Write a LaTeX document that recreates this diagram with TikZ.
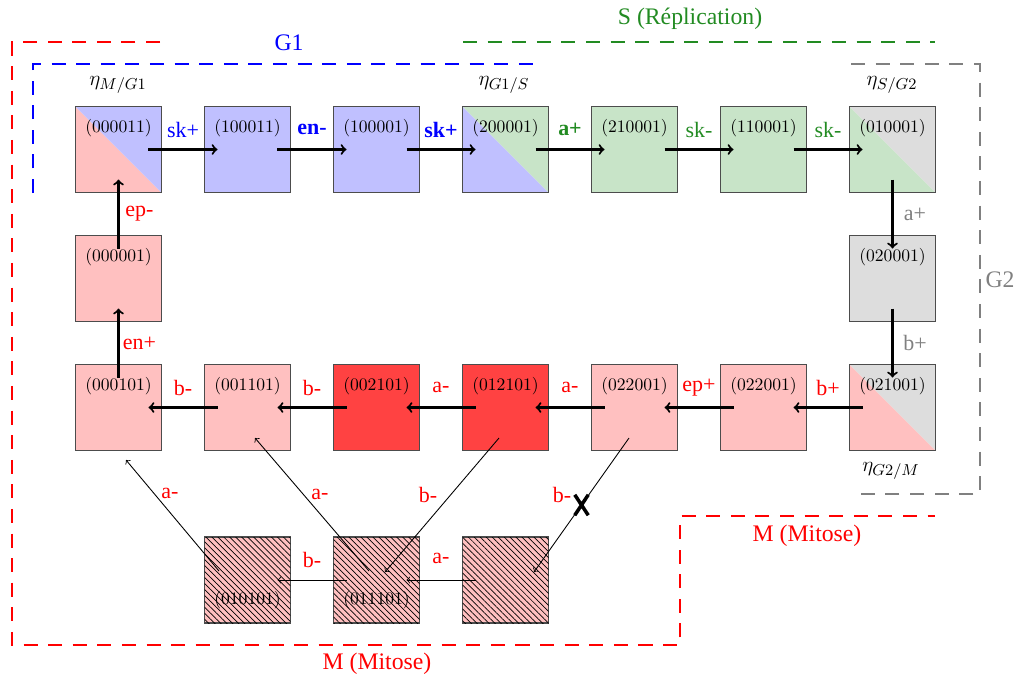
\documentclass[tikz,border=0pt]{standalone}
\usepackage{fontspec}
\usepackage{tikz}
\usetikzlibrary{calc,patterns.meta,shapes.misc}
\newfontfamily\lblfont{Liberation Serif}
\definecolor{bleu}{RGB}{192,192,255}
\definecolor{vert}{RGB}{200,228,200}
\definecolor{rose}{RGB}{255,192,192}
\definecolor{rouge}{RGB}{255,66,66}
\definecolor{gris}{RGB}{221,221,221}
\definecolor{tvert}{RGB}{34,139,34}
\definecolor{tgris}{RGB}{128,128,128}
\tikzset{
  etat/.style={draw=black!70, line width=0.6pt, minimum width=1.72cm, minimum height=1.72cm, inner sep=0pt},
  moitie/.style 2 args={etat, path picture={
      \fill[#1] (path picture bounding box.north west) -- (path picture bounding box.south west) -- (path picture bounding box.south east) -- cycle;
      \fill[#2] (path picture bounding box.north west) -- (path picture bounding box.north east) -- (path picture bounding box.south east) -- cycle;}},
  raye/.style={etat, fill=rose, postaction={pattern={Lines[angle=-45, distance=2.4pt, line width=0.4pt]}}},
  txt/.style={label={[anchor=center,yshift=-0.44cm]north:#1}},
  txtbas/.style={label={[anchor=center,yshift=0.46cm]south:#1}},
  fleche/.style={->, line width=1.2pt, shorten >=0.6cm, shorten <=0.6cm},
  fin/.style={->, line width=0.5pt},
  lab/.style={font=\fontsize{12.5}{14}\lblfont},
  labgras/.style={font=\fontsize{12.5}{14}\lblfont\bfseries},
  zone/.style={line width=1.1pt, dash pattern=on 8pt off 6pt},
  titre/.style={font=\fontsize{13.5}{16}\lblfont},
  eta/.style={font=\fontsize{12.5}{15}\selectfont}
}

\begin{document}
\begin{tikzpicture}[x=0.02cm, y=-0.02cm]
    \useasboundingbox (0,0) rectangle (1016,677);
    % phases
    \draw[zone, red] (160,42) -- (12,42) -- (12,645) -- (680,645) -- (680,516) -- (935,516);
    \draw[zone, blue] (33,193) -- (33,64) -- (543,64);
    \draw[zone, tvert] (463,42) -- (935,42);
    \draw[zone, tgris] (851,64) -- (980,64) -- (980,494) -- (851,494);
    \node[titre, blue] (g1) at (289,43) {G1};
    \node[titre, tvert] (s) at (690,19) {S (Réplication)};
    \node[titre, tgris] (g2) at (1000,280) {G2};
    \node[titre, red] (m1) at (377,664) {M (Mitose)};
    \node[titre, red] (m2) at (807,536) {M (Mitose)};
    % etats
    \node[moitie={rose}{bleu}, txt=(000011)] (s000011) at (118.5,149.5) {};
    \node[etat, fill=bleu, txt=(100011)] (s100011) at (247.5,149.5) {};
    \node[etat, fill=bleu, txt=(100001)] (s100001) at (376.5,149.5) {};
    \node[moitie={bleu}{vert}, txt=(200001)] (s200001) at (505.5,149.5) {};
    \node[etat, fill=vert, txt=(210001)] (s210001) at (634.5,149.5) {};
    \node[etat, fill=vert, txt=(110001)] (s110001) at (763.5,149.5) {};
    \node[moitie={vert}{gris}, txt=(010001)] (s010001) at (892.5,149.5) {};
    \node[etat, fill=rose, txt=(000001)] (s000001) at (118.5,278.5) {};
    \node[etat, fill=gris, txt=(020001)] (s020001) at (892.5,278.5) {};
    \node[etat, fill=rose, txt=(000101)] (s000101) at (118.5,407.5) {};
    \node[etat, fill=rose, txt=(001101)] (s001101) at (247.5,407.5) {};
    \node[etat, fill=rouge, txt=(002101)] (s002101) at (376.5,407.5) {};
    \node[etat, fill=rouge, txt=(012101)] (s012101) at (505.5,407.5) {};
    \node[etat, fill=rose, txt=(022001)] (s022001a) at (634.5,407.5) {};
    \node[etat, fill=rose, txt=(022001)] (s022001b) at (763.5,407.5) {};
    \node[moitie={rose}{gris}, txt=(021001)] (s021001) at (892.5,407.5) {};
    \node[raye, txtbas=(010101)] (s010101) at (247.5,580) {};
    \node[raye, txtbas=(011101)] (s011101) at (376.5,580) {};
    \node[raye] (vide) at (505.5,580) {};
    % points de controle
    \node[eta] (eta1) at (118,85) {$\eta_{M/G1}$};
    \node[eta] (eta2) at (504,85) {$\eta_{G1/S}$};
    \node[eta] (eta3) at (892,85) {$\eta_{S/G2}$};
    \node[eta] (eta4) at (891,471) {$\eta_{G2/M}$};
    % transitions
    \draw[fleche] (s000011.center) -- (s100011.center) node[midway, lab, blue, yshift=0.4cm] {sk+};
    \draw[fleche] (s100011.center) -- (s100001.center) node[midway, labgras, blue, yshift=0.4cm] {en-};
    \draw[fleche] (s100001.center) -- (s200001.center) node[midway, labgras, blue, yshift=0.4cm] {sk+};
    \draw[fleche] (s200001.center) -- (s210001.center) node[midway, labgras, tvert, yshift=0.4cm] {a+};
    \draw[fleche] (s210001.center) -- (s110001.center) node[midway, lab, tvert, yshift=0.4cm] {sk-};
    \draw[fleche] (s110001.center) -- (s010001.center) node[midway, lab, tvert, yshift=0.4cm] {sk-};
    \draw[fleche] (s010001.center) -- (s020001.center) node[midway, lab, tgris, xshift=0.45cm] {a+};
    \draw[fleche] (s020001.center) -- (s021001.center) node[midway, lab, tgris, xshift=0.45cm] {b+};
    \draw[fleche] (s021001.center) -- (s022001b.center) node[midway, lab, red, yshift=0.4cm] {b+};
    \draw[fleche] (s022001b.center) -- (s022001a.center) node[midway, lab, red, yshift=0.4cm] {ep+};
    \draw[fleche] (s022001a.center) -- (s012101.center) node[midway, lab, red, yshift=0.4cm] {a-};
    \draw[fleche] (s012101.center) -- (s002101.center) node[midway, lab, red, yshift=0.4cm] {a-};
    \draw[fleche] (s002101.center) -- (s001101.center) node[midway, lab, red, yshift=0.4cm] {b-};
    \draw[fleche] (s001101.center) -- (s000101.center) node[midway, lab, red, yshift=0.4cm] {b-};
    \draw[fleche] (s000101.center) -- (s000001.center) node[midway, lab, red, xshift=0.42cm] {en+};
    \draw[fleche] (s000001.center) -- (s000011.center) node[midway, lab, red, xshift=0.42cm] {ep-};
    % mitose
    \draw[fin, shorten >=0.6cm, shorten <=0.6cm] (s011101.center) -- (s010101.center) node[midway, lab, red, yshift=0.4cm] {b-};
    \draw[fin, shorten >=0.6cm, shorten <=0.6cm] (vide.center) -- (s011101.center) node[midway, lab, red, yshift=0.44cm] {a-};
    \draw[fin] ($(s010101)+(-28.5,-9)$) -- ($(s000101)+(7.5,52.5)$) node[midway, lab, red, xshift=-0.05cm, yshift=0.45cm] {a-};
    \draw[fin] ($(s011101)+(-7.5,-9)$) -- ($(s001101)+(7.5,30.5)$) node[midway, lab, red, xshift=0.16cm, yshift=0.21cm] {a-};
    \draw[fin] ($(s012101)+(-6.5,30.5)$) -- ($(s011101)+(8.5,-8)$) node[midway, lab, red, xshift=-0.28cm, yshift=0.2cm] {b-};
    \draw[fin] ($(s022001a)+(-5.5,30.5)$) -- ($(vide)+(28.5,-8)$)
        node[midway, lab, red, xshift=-0.39cm, yshift=0.2cm] {b-}
        node[midway, cross out, draw, line width=2pt, minimum width=0.2cm, minimum height=0.34cm, inner sep=0pt] (croix) {};
\end{tikzpicture}
\end{document}
